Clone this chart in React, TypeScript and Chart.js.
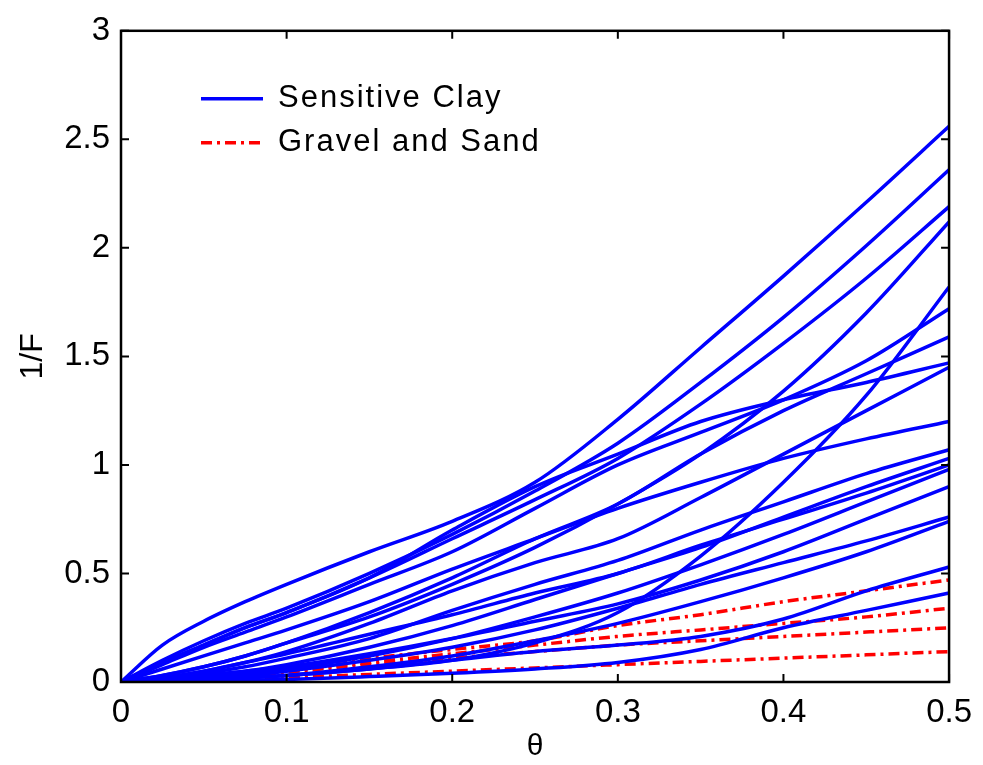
import React, { useEffect, useRef } from "react";
import { Chart, registerables } from "chart.js";

Chart.register(...registerables);

// theta sample points
const theta = [0, 0.025, 0.05, 0.075, 0.1, 0.15, 0.2, 0.25, 0.3, 0.35, 0.4, 0.45, 0.5];

// Sensitive Clay curves (1/F)
const clay1 = [0, 0.17, 0.28, 0.37, 0.45, 0.6, 0.74, 0.92, 1.21, 1.54, 1.87, 2.21, 2.56];
const clay2 = [0, 0.1, 0.19, 0.27, 0.34, 0.5, 0.68, 0.88, 1.1, 1.38, 1.68, 2.01, 2.36];
const clay3 = [0, 0.09, 0.17, 0.25, 0.32, 0.48, 0.66, 0.84, 1.03, 1.28, 1.56, 1.86, 2.19];
const clay4 = [0, 0.03, 0.07, 0.12, 0.18, 0.3, 0.45, 0.62, 0.82, 1.05, 1.34, 1.7, 2.12];
const clay5 = [0, 0.005, 0.01, 0.02, 0.03, 0.06, 0.1, 0.18, 0.32, 0.58, 0.92, 1.32, 1.82];
const clay6 = [0, 0.08, 0.16, 0.23, 0.3, 0.45, 0.6, 0.8, 1.0, 1.15, 1.3, 1.48, 1.72];
const clay7 = [0, 0.03, 0.07, 0.12, 0.18, 0.32, 0.48, 0.66, 0.82, 1.05, 1.25, 1.42, 1.59];
const clay8 = [0, 0.09, 0.17, 0.25, 0.32, 0.48, 0.7, 0.9, 1.05, 1.2, 1.3, 1.38, 1.47];
const clay9 = [0, 0.02, 0.05, 0.09, 0.14, 0.27, 0.42, 0.55, 0.66, 0.85, 1.05, 1.25, 1.45];
const clay10 = [0, 0.06, 0.12, 0.18, 0.24, 0.37, 0.52, 0.66, 0.8, 0.92, 1.03, 1.12, 1.2];
const clay11 = [0, 0.02, 0.04, 0.07, 0.11, 0.2, 0.33, 0.45, 0.56, 0.7, 0.83, 0.96, 1.07];
const clay12 = [0, 0.01, 0.03, 0.05, 0.08, 0.16, 0.26, 0.38, 0.5, 0.62, 0.76, 0.9, 1.03];
const clay13 = [0, 0.02, 0.05, 0.09, 0.13, 0.22, 0.31, 0.41, 0.5, 0.63, 0.75, 0.87, 1.0];
const clay14 = [0, 0.01, 0.02, 0.04, 0.06, 0.12, 0.2, 0.3, 0.41, 0.54, 0.68, 0.83, 0.98];
const clay15 = [0, 0.01, 0.03, 0.05, 0.07, 0.13, 0.2, 0.28, 0.36, 0.47, 0.6, 0.75, 0.9];
const clay16 = [0, 0.01, 0.02, 0.03, 0.05, 0.1, 0.16, 0.24, 0.34, 0.45, 0.55, 0.65, 0.76];
const clay17 = [0, 0.005, 0.01, 0.02, 0.03, 0.07, 0.12, 0.19, 0.27, 0.37, 0.48, 0.6, 0.74];
const clay18 = [0, 0.005, 0.01, 0.02, 0.03, 0.06, 0.1, 0.14, 0.17, 0.21, 0.29, 0.42, 0.53];
const clay19 = [0, 0.002, 0.005, 0.008, 0.012, 0.025, 0.04, 0.06, 0.09, 0.15, 0.25, 0.33, 0.41];

// Gravel and Sand curves (1/F)
const sand1 = [0, 0.01, 0.03, 0.045, 0.07, 0.11, 0.15, 0.19, 0.26, 0.31, 0.37, 0.42, 0.47];
const sand2 = [0, 0.008, 0.02, 0.035, 0.05, 0.09, 0.13, 0.17, 0.21, 0.24, 0.27, 0.3, 0.34];
const sand3 = [0, 0.007, 0.017, 0.03, 0.045, 0.08, 0.11, 0.14, 0.17, 0.19, 0.21, 0.23, 0.25];
const sand4 = [0, 0.004, 0.01, 0.015, 0.02, 0.035, 0.05, 0.065, 0.08, 0.095, 0.11, 0.125, 0.14];

const claySeries = [clay1, clay2, clay3, clay4, clay5, clay6, clay7, clay8, clay9, clay10,
  clay11, clay12, clay13, clay14, clay15, clay16, clay17, clay18, clay19];
const sandSeries = [sand1, sand2, sand3, sand4];

const seriesNames = ["Sensitive Clay", "Gravel and Sand"];
const xTickLabels = ["0", "0.1", "0.2", "0.3", "0.4", "0.5"];
const yTickLabels = ["0", "0.5", "1", "1.5", "2", "2.5", "3"];
const xTitle = "θ";
const yTitle = "1/F";

const FONT = "'Liberation Sans', Arial, sans-serif";
const BLUE = "#0000ff";
const RED = "#ff0000";
const DASHDOT = [11, 5, 3, 5];

const framePlugin = {
  id: "frameTicks",
  afterDatasetsDraw(chart: any) {
    const { ctx, chartArea } = chart;
    const { left, right, top, bottom } = chartArea;
    const xs = chart.scales.x;
    const ys = chart.scales.y;
    ctx.save();
    ctx.strokeStyle = "#000";
    ctx.lineWidth = 2;
    const len = 8;
    xs.ticks.forEach((t: any) => {
      const px = xs.getPixelForValue(t.value);
      ctx.beginPath();
      ctx.moveTo(px, bottom);
      ctx.lineTo(px, bottom - len);
      ctx.moveTo(px, top);
      ctx.lineTo(px, top + len);
      ctx.stroke();
    });
    ys.ticks.forEach((t: any) => {
      const py = ys.getPixelForValue(t.value);
      ctx.beginPath();
      ctx.moveTo(left, py);
      ctx.lineTo(left + len, py);
      ctx.moveTo(right, py);
      ctx.lineTo(right - len, py);
      ctx.stroke();
    });
    ctx.lineWidth = 2.5;
    ctx.strokeRect(left, top, right - left, bottom - top);

    // legend
    const items = [
      { label: seriesNames[0], color: BLUE, dash: [] as number[] },
      { label: seriesNames[1], color: RED, dash: DASHDOT },
    ];
    ctx.font = `31px ${FONT}`;
    try { (ctx as any).letterSpacing = "2px"; } catch (e) {}
    ctx.textBaseline = "middle";
    ctx.textAlign = "left";
    items.forEach((it, i) => {
      const y = top + 68 + i * 44;
      ctx.strokeStyle = it.color;
      ctx.lineWidth = 3.5;
      ctx.setLineDash(it.dash);
      ctx.beginPath();
      ctx.moveTo(left + 80, y);
      ctx.lineTo(left + 142, y);
      ctx.stroke();
      ctx.setLineDash([]);
      ctx.fillStyle = "#000";
      ctx.fillText(it.label, left + 157, y);
    });
    ctx.restore();
  },
};

export default function App() {
  const ref = useRef<HTMLCanvasElement | null>(null);
  useEffect(() => {
    if (!ref.current) return;
    const datasets: any[] = [];
    claySeries.forEach((s, i) => {
      datasets.push({
        label: seriesNames[0] + " " + (i + 1),
        data: theta.map((x, j) => ({ x, y: s[j] })),
        borderColor: BLUE,
        borderWidth: 3.5,
        pointRadius: 0,
        cubicInterpolationMode: "monotone",
        fill: false,
      });
    });
    sandSeries.forEach((s, i) => {
      datasets.push({
        label: seriesNames[1] + " " + (i + 1),
        data: theta.map((x, j) => ({ x, y: s[j] })),
        borderColor: RED,
        borderWidth: 3.5,
        borderDash: DASHDOT,
        pointRadius: 0,
        cubicInterpolationMode: "monotone",
        fill: false,
      });
    });
    const chart = new Chart(ref.current, {
      type: "line",
      data: { datasets },
      options: {
        animation: false,
        responsive: false,
        layout: { padding: { left: 0, right: 30, top: 26, bottom: 0 } },
        plugins: { legend: { display: false }, tooltip: { enabled: false } },
        scales: {
          x: {
            type: "linear",
            min: 0,
            max: 0.5,
            grid: { display: false, drawTicks: false },
            border: { display: false },
            ticks: {
              stepSize: 0.1,
              padding: 11,
              color: "#000",
              font: { family: FONT, size: 33 },
              maxRotation: 0,
              callback: (v: any, i: number) => xTickLabels[i],
            },
            title: {
              display: true,
              text: xTitle,
              color: "#000",
              font: { family: FONT, size: 30 },
              padding: { top: 0, bottom: 0 },
            },
            afterFit: (s: any) => { s.height = 83; },
          },
          y: {
            type: "linear",
            min: 0,
            max: 3,
            grid: { display: false, drawTicks: false },
            border: { display: false },
            ticks: {
              stepSize: 0.5,
              padding: 11,
              color: "#000",
              font: { family: FONT, size: 33 },
              callback: (v: any, i: number) => yTickLabels[i],
            },
            title: {
              display: true,
              text: yTitle,
              color: "#000",
              font: { family: FONT, size: 32 },
              padding: { top: 14, bottom: 0 },
            },
            afterFit: (s: any) => { s.width = 121; },
          },
        },
      },
      plugins: [framePlugin],
    } as any);
    return () => chart.destroy();
  }, []);
  return (
    <div style={{ position: "absolute", left: 0, top: 0, width: 983, height: 765, background: "#fff" }}>
      <canvas ref={ref} width={983} height={765} />
    </div>
  );
}
